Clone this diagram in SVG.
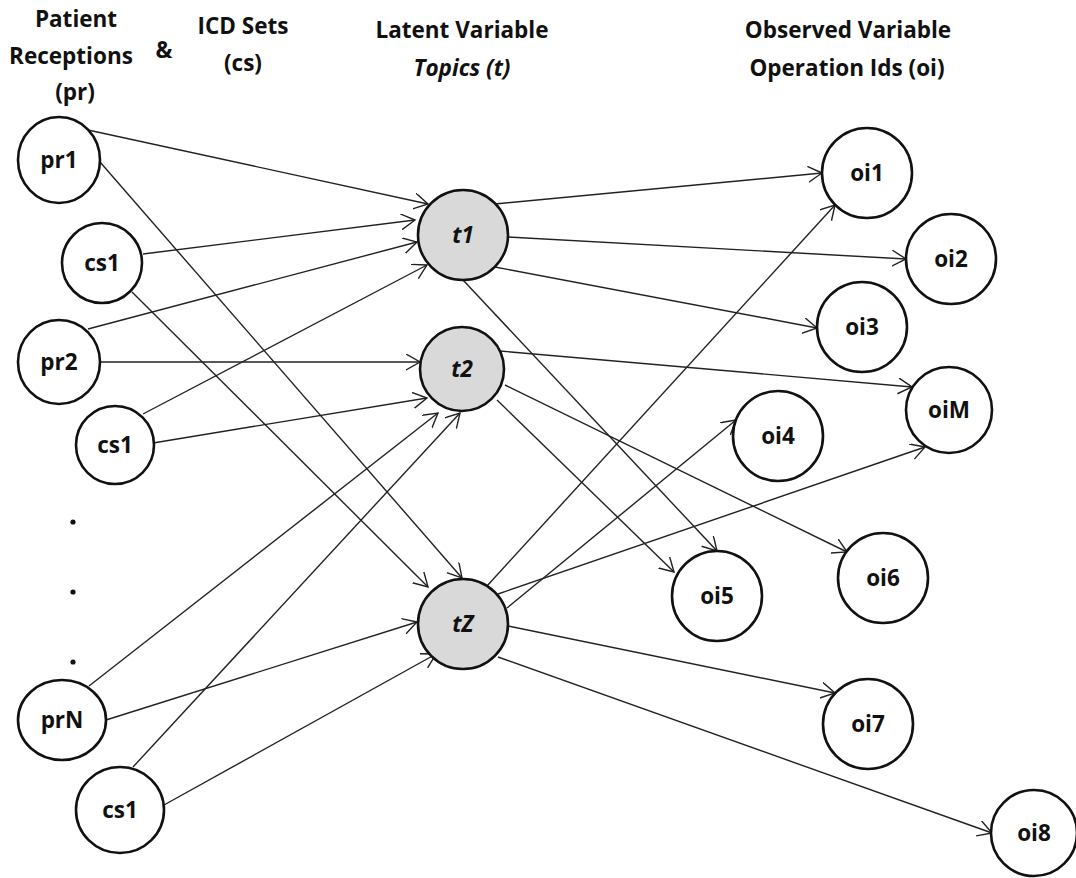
<svg xmlns="http://www.w3.org/2000/svg" width="1076" height="878" viewBox="0 0 1076 878">
  <style>
    .hdr { font-family: "Open Sans", "Liberation Sans", sans-serif; font-weight: bold; font-size: 22.5px; fill: #111; text-anchor: middle; }
    .lbl { font-family: "Open Sans", "Liberation Sans", sans-serif; font-weight: bold; font-size: 22.5px; fill: #111; text-anchor: middle; }
    .it { font-style: italic; }
    .node { fill: #fff; stroke: #111; stroke-width: 2.6; }
    .topic { fill: #d9d9d9; stroke: #111; stroke-width: 2.6; }
    .edge { stroke: #222; stroke-width: 1.4; fill: none; marker-end: url(#arrow); }
  </style>
  <defs>
    <marker id="arrow" markerUnits="userSpaceOnUse" markerWidth="16" markerHeight="18" refX="14" refY="8" orient="auto">
      <path d="M0,0 L14,8 L0,16" fill="none" stroke="#222" stroke-width="1.4"/>
    </marker>
  </defs>
  <rect width="1076" height="878" fill="#fff"/>

  <!-- column headers -->
  <g id="headers">
    <text class="hdr" x="76" y="27">Patient</text>
    <text class="hdr" x="71" y="64">Receptions</text>
    <text class="hdr" x="75" y="100">(pr)</text>
    <text class="hdr" x="164" y="58">&amp;</text>
    <text class="hdr" x="243" y="34">ICD Sets</text>
    <text class="hdr" x="243" y="71">(cs)</text>
    <text class="hdr" x="462" y="38">Latent Variable</text>
    <text class="hdr it" x="462" y="76">Topics (t)</text>
    <text class="hdr" x="848" y="38">Observed Variable</text>
    <text class="hdr" x="847" y="76">Operation Ids (oi)</text>
  </g>

  <!-- connectors -->
  <g id="edges">
    <!-- inputs to topics -->
    <line class="edge" x1="88" y1="130" x2="428" y2="204"/>
    <line class="edge" x1="100" y1="162" x2="462" y2="578"/>
    <line class="edge" x1="143" y1="254" x2="415" y2="220"/>
    <line class="edge" x1="132" y1="292" x2="428" y2="587"/>
    <line class="edge" x1="88" y1="329" x2="417" y2="242"/>
    <line class="edge" x1="100" y1="362" x2="420" y2="362"/>
    <line class="edge" x1="143" y1="414" x2="427" y2="265"/>
    <line class="edge" x1="153" y1="443" x2="427" y2="398"/>
    <line class="edge" x1="89" y1="686" x2="438" y2="413"/>
    <line class="edge" x1="106" y1="720" x2="417" y2="622"/>
    <line class="edge" x1="133" y1="767" x2="460" y2="413"/>
    <line class="edge" x1="164" y1="805" x2="436" y2="654"/>
    <!-- topics to operation ids -->
    <line class="edge" x1="495" y1="204" x2="822" y2="173"/>
    <line class="edge" x1="508" y1="237" x2="906" y2="259"/>
    <line class="edge" x1="495" y1="267" x2="817" y2="328"/>
    <line class="edge" x1="463" y1="280" x2="717" y2="551"/>
    <line class="edge" x1="500" y1="351" x2="912" y2="387"/>
    <line class="edge" x1="505" y1="385" x2="847" y2="552"/>
    <line class="edge" x1="497" y1="400" x2="674" y2="572"/>
    <line class="edge" x1="487" y1="586" x2="835" y2="205"/>
    <line class="edge" x1="498" y1="594" x2="925" y2="447"/>
    <line class="edge" x1="507" y1="608" x2="736" y2="420"/>
    <line class="edge" x1="508" y1="626" x2="835" y2="693"/>
    <line class="edge" x1="498" y1="657" x2="992" y2="833"/>
  </g>

  <!-- input nodes -->
  <g id="pr1"><ellipse class="node" cx="59" cy="160" rx="41" ry="43"/><text class="lbl" x="59" y="168">pr1</text></g>
  <g id="cs1-a"><circle class="node" cx="102" cy="263" r="40"/><text class="lbl" x="102" y="271">cs1</text></g>
  <g id="pr2"><ellipse class="node" cx="59" cy="362" rx="41" ry="42"/><text class="lbl" x="59" y="370">pr2</text></g>
  <g id="cs1-b"><circle class="node" cx="115" cy="445" r="39"/><text class="lbl" x="115" y="453">cs1</text></g>
  <g id="ellipsis">
    <circle cx="73" cy="522" r="2.6" fill="#111"/>
    <circle cx="73" cy="592" r="2.6" fill="#111"/>
    <circle cx="73" cy="662" r="2.6" fill="#111"/>
  </g>
  <g id="prN"><ellipse class="node" cx="62" cy="720" rx="44" ry="40"/><text class="lbl" x="62" y="728">prN</text></g>
  <g id="cs1-c"><ellipse class="node" cx="120" cy="810" rx="44" ry="43"/><text class="lbl" x="120" y="818">cs1</text></g>

  <!-- topic nodes -->
  <g id="t1"><circle class="topic" cx="463" cy="235" r="45"/><text class="lbl it" x="463" y="243">t1</text></g>
  <g id="t2"><circle class="topic" cx="462" cy="369" r="42"/><text class="lbl it" x="462" y="377">t2</text></g>
  <g id="tZ"><circle class="topic" cx="463" cy="624" r="45"/><text class="lbl it" x="463" y="632">tZ</text></g>

  <!-- operation id nodes -->
  <g id="oi1"><circle class="node" cx="867" cy="173" r="45"/><text class="lbl" x="867" y="181">oi1</text></g>
  <g id="oi2"><circle class="node" cx="951" cy="259" r="45"/><text class="lbl" x="951" y="267">oi2</text></g>
  <g id="oi3"><circle class="node" cx="862" cy="327" r="45"/><text class="lbl" x="862" y="335">oi3</text></g>
  <g id="oiM"><circle class="node" cx="949" cy="410" r="43"/><text class="lbl" x="949" y="418">oiM</text></g>
  <g id="oi4"><circle class="node" cx="778" cy="436" r="45"/><text class="lbl" x="778" y="444">oi4</text></g>
  <g id="oi5"><circle class="node" cx="717" cy="596" r="45"/><text class="lbl" x="717" y="604">oi5</text></g>
  <g id="oi6"><circle class="node" cx="883" cy="578" r="45"/><text class="lbl" x="883" y="586">oi6</text></g>
  <g id="oi7"><circle class="node" cx="868" cy="724" r="45"/><text class="lbl" x="868" y="732">oi7</text></g>
  <g id="oi8"><circle class="node" cx="1034" cy="833" r="43"/><text class="lbl" x="1034" y="841">oi8</text></g>
</svg>
